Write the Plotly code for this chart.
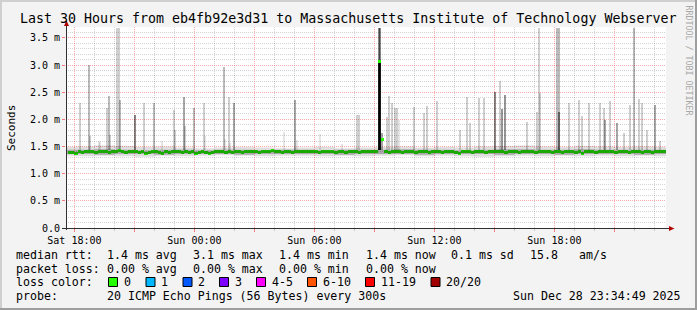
import numpy as np
import pandas as pd
import plotly.graph_objects as go

# ---------------- data ----------------
range_start = "2025-12-27 17:34:49"
range_end = "2025-12-28 23:34:49"

median_start = "2025-12-27 17:40"   # 10-minute steps
median_ms = [
    1.39, 1.39, 1.38, 1.40, 1.39, 1.40, 1.41, 1.40, 1.39, 1.40, 1.41, 1.40, 1.39, 1.41, 1.40, 1.42, 1.40, 1.39,
    1.40, 1.41, 1.40, 1.39, 1.40, 1.38, 1.39, 1.41, 1.40, 1.39, 1.38, 1.40, 1.39, 1.40, 1.41, 1.40, 1.39, 1.40,
    1.39, 1.40, 1.38, 1.39, 1.40, 1.39, 1.38, 1.39, 1.40, 1.41, 1.40, 1.39, 1.40, 1.39, 1.41, 1.40, 1.39, 1.40,
    1.40, 1.41, 1.40, 1.39, 1.40, 1.41, 1.40, 1.42, 1.41, 1.40, 1.39, 1.41, 1.40, 1.39, 1.40, 1.41, 1.40, 1.40,
    1.41, 1.40, 1.41, 1.39, 1.40, 1.41, 1.40, 1.40, 1.39, 1.41, 1.40, 1.39, 1.40, 1.41, 1.40, 1.39, 1.40, 1.41,
    1.40, 1.41, 1.40, 3.06, 1.63, 1.40, 1.39, 1.40, 1.41, 1.40, 1.39, 1.40, 1.40, 1.41, 1.39, 1.40, 1.41, 1.40,
    1.39, 1.40, 1.41, 1.40, 1.39, 1.40, 1.41, 1.40, 1.39, 1.38, 1.40, 1.41, 1.40, 1.39, 1.40, 1.41, 1.40, 1.39,
    1.40, 1.41, 1.40, 1.41, 1.40, 1.39, 1.40, 1.41, 1.40, 1.39, 1.40, 1.41, 1.40, 1.40, 1.39, 1.41, 1.40, 1.41,
    1.40, 1.39, 1.41, 1.40, 1.39, 1.40, 1.41, 1.40, 1.39, 1.40, 1.38, 1.40, 1.41, 1.40, 1.39, 1.40, 1.41, 1.40,
    1.41, 1.40, 1.39, 1.40, 1.41, 1.40, 1.39, 1.40, 1.41, 1.40, 1.39, 1.41, 1.40, 1.39, 1.40, 1.41, 1.40, 1.41,
]

smoke_start = "2025-12-27 17:00"    # hourly steps
smoke_lo_ms = [1.33, 1.32, 1.33, 1.32, 1.31, 1.33, 1.32, 1.33, 1.34, 1.33, 1.32, 1.33, 1.33, 1.32, 1.33, 1.32,
               1.33, 1.34, 1.32, 1.33, 1.32, 1.31, 1.32, 1.33, 1.32, 1.33, 1.32, 1.33, 1.32, 1.33, 1.32, 1.33]
smoke_hi_ms = [1.49, 1.50, 1.52, 1.51, 1.49, 1.50, 1.48, 1.47, 1.48, 1.49, 1.48, 1.47, 1.48, 1.49, 1.47, 1.48,
               1.49, 1.50, 1.48, 1.49, 1.48, 1.50, 1.51, 1.52, 1.50, 1.49, 1.51, 1.50, 1.49, 1.50, 1.49, 1.48]
core_lo_ms = [1.36, 1.36, 1.35, 1.36, 1.36, 1.35, 1.36, 1.36, 1.36, 1.35, 1.36, 1.36, 1.36, 1.36, 1.35, 1.36,
              1.36, 1.36, 1.35, 1.36, 1.36, 1.36, 1.35, 1.36, 1.36, 1.35, 1.36, 1.36, 1.36, 1.35, 1.36, 1.36]
core_hi_ms = [1.44, 1.44, 1.45, 1.44, 1.43, 1.44, 1.44, 1.43, 1.44, 1.44, 1.43, 1.44, 1.44, 1.43, 1.44, 1.44,
              1.44, 1.45, 1.44, 1.44, 1.43, 1.44, 1.45, 1.45, 1.44, 1.44, 1.45, 1.44, 1.44, 1.44, 1.44, 1.43]

spike_time = [
    "2025-12-27 18:15", "2025-12-27 18:40", "2025-12-27 18:45", "2025-12-27 19:10", "2025-12-27 19:15",
    "2025-12-27 19:35", "2025-12-27 19:40", "2025-12-27 19:45", "2025-12-27 20:05", "2025-12-27 20:10",
    "2025-12-27 20:15", "2025-12-27 21:00", "2025-12-27 21:25", "2025-12-27 21:55", "2025-12-27 22:20",
    "2025-12-27 22:55", "2025-12-27 23:00", "2025-12-27 23:25", "2025-12-27 23:30", "2025-12-27 23:55",
    "2025-12-28 00:25", "2025-12-28 00:30", "2025-12-28 01:25", "2025-12-28 01:30", "2025-12-28 01:40",
    "2025-12-28 01:45", "2025-12-28 01:55", "2025-12-28 04:25", "2025-12-28 05:00", "2025-12-28 05:05",
    "2025-12-28 06:15", "2025-12-28 07:20", "2025-12-28 08:05", "2025-12-28 08:10", "2025-12-28 09:10",
    "2025-12-28 09:15", "2025-12-28 09:10", "2025-12-28 09:15", "2025-12-28 09:20", "2025-12-28 09:35",
    "2025-12-28 09:40", "2025-12-28 09:50", "2025-12-28 10:00", "2025-12-28 10:05", "2025-12-28 10:10",
    "2025-12-28 10:55", "2025-12-28 11:25", "2025-12-28 11:35", "2025-12-28 12:05", "2025-12-28 13:15",
    "2025-12-28 13:35", "2025-12-28 13:45", "2025-12-28 14:10", "2025-12-28 14:25", "2025-12-28 15:00",
    "2025-12-28 15:15", "2025-12-28 15:20", "2025-12-28 15:30", "2025-12-28 16:35", "2025-12-28 17:05",
    "2025-12-28 17:10", "2025-12-28 17:15", "2025-12-28 18:05", "2025-12-28 18:10", "2025-12-28 18:10",
    "2025-12-28 18:40", "2025-12-28 19:10", "2025-12-28 19:20", "2025-12-28 19:40", "2025-12-28 20:15",
    "2025-12-28 20:25", "2025-12-28 20:30", "2025-12-28 20:45", "2025-12-28 21:05", "2025-12-28 21:25",
    "2025-12-28 21:45", "2025-12-28 21:55", "2025-12-28 22:10", "2025-12-28 22:20", "2025-12-28 22:35",
    "2025-12-28 23:00", "2025-12-28 23:15",
]
spike_top_ms = [
    2.30, 3.00, 1.69, 1.60, 1.58, 2.21, 2.43, 1.71, 3.68, 3.68,
    2.36, 2.08, 2.31, 2.31, 1.60, 2.17, 1.80, 2.41, 1.87, 2.20,
    2.30, 1.70, 2.97, 1.64, 2.42, 1.57, 2.31, 1.76, 2.36, 1.62,
    1.73, 1.55, 2.08, 2.08, 3.68, 3.68, 3.06, 3.06, 1.75, 2.05,
    2.43, 2.30, 2.21, 2.21, 1.99, 2.23, 2.11, 2.25, 2.33, 1.80,
    2.42, 1.93, 2.39, 2.39, 2.51, 2.71, 2.19, 2.45, 1.96, 2.14,
    3.68, 2.48, 3.68, 3.68, 2.14, 2.30, 2.36, 2.06, 2.30, 2.30,
    2.20, 1.99, 2.33, 1.94, 1.75, 2.26, 3.68, 2.37, 2.30, 1.80,
    2.26, 1.60,
]
spike_pings = [
    2, 3, 2, 1, 1, 2, 3, 2, 2, 2,
    3, 6, 2, 3, 1, 2, 2, 4, 2, 3,
    2, 1, 3, 1, 2, 1, 4, 1, 4, 1,
    1, 1, 2, 2, 6, 6, 16, 16, 4, 2,
    2, 2, 2, 2, 1, 2, 2, 2, 2, 2,
    2, 2, 2, 2, 6, 2, 5, 5, 2, 2,
    2, 2, 3, 3, 6, 2, 2, 2, 2, 2,
    2, 4, 2, 4, 2, 2, 3, 2, 2, 2,
    4, 2,
]

loss_labels = ["0", "1", "2", "3", "4-5", "6-10", "11-19", "20/20"]
loss_colors = ["#26ff00", "#00b8ff", "#0059ff", "#7e00ff", "#ff00ff", "#ff5500", "#ff0000", "#a10000"]

title_text = "Last 30 Hours from eb4fb92e3d31 to Massachusetts Institute of Technology Webserver"
rtt_stats = ["median rtt:", "1.4 ms avg", "3.1 ms max", "1.4 ms min", "1.4 ms now", "0.1 ms sd", "15.8", "am/s"]
loss_stats = ["packet loss:", "0.00 % avg", "0.00 % max", "0.00 % min", "0.00 % now"]
probe_text = ["probe:", "20 ICMP Echo Pings (56 Bytes) every 300s"]
stamp_text = "Sun Dec 28 23:34:49 2025"

# ---------------- figure ----------------
MONO = "DejaVu Sans Mono"
W, H = 697, 310
L, R, T, B = 66, 666, 27, 228   # plot area in pixels


def px(x):
    return (x - L) / (R - L)


def py(y):
    return (B - y) / (B - T)


fig = go.Figure()

smoke_t = pd.date_range(smoke_start, periods=len(smoke_lo_ms), freq="1h")
fig.add_trace(go.Scatter(x=smoke_t, y=smoke_lo_ms, mode="lines", line=dict(width=0, shape="hv"),
                         hoverinfo="skip"))
fig.add_trace(go.Scatter(x=smoke_t, y=smoke_hi_ms, mode="lines", line=dict(width=0, shape="hv"),
                         fill="tonexty", fillcolor="rgba(0,0,0,0.13)", hoverinfo="skip"))
fig.add_trace(go.Scatter(x=smoke_t, y=core_lo_ms, mode="lines", line=dict(width=0, shape="hv"),
                         hoverinfo="skip"))
fig.add_trace(go.Scatter(x=smoke_t, y=core_hi_ms, mode="lines", line=dict(width=0, shape="hv"),
                         fill="tonexty", fillcolor="rgba(0,0,0,0.24)", hoverinfo="skip"))

spike_base = 1.44
sp_t = pd.to_datetime(spike_time)
sp_top = np.array(spike_top_ms)
sp_alpha = 1 - 0.9 ** np.array(spike_pings)
fig.add_trace(go.Bar(x=sp_t, y=sp_top - spike_base, base=spike_base, width=360000, offset=0,
                     marker=dict(color=[f"rgba(0,0,0,{a:.3f})" for a in sp_alpha], line=dict(width=0))))

med_t = pd.date_range(median_start, periods=len(median_ms), freq="10min")
thick = 0.055
fig.add_trace(go.Bar(x=med_t, y=np.full(len(median_ms), thick), base=np.array(median_ms) - thick / 2,
                     width=600000, offset=0, marker=dict(color=loss_colors[0], line=dict(width=0))))

# axes ticks
major_x = pd.date_range("2025-12-27 18:00", range_end, freq="3h")
major_text = [t.strftime("%a %H:%M") if t.hour % 6 == 0 else "" for t in major_x]
minor_x = [t for t in pd.date_range("2025-12-27 18:00", range_end, freq="1h") if t.hour % 3 != 0]
yt = np.round(np.arange(0, 3.51, 0.5), 2)
yt_text = ["0.0" if v == 0 else f"{v:.1f} m" for v in yt]
ym = [v for v in np.round(np.arange(0.1, 3.71, 0.1), 2) if round(v * 10) % 5 != 0]

MGRID = "rgba(255,0,0,0.33)"
GRID = "rgba(0,0,0,0.17)"

fig.update_layout(
    width=W, height=H,
    margin=dict(l=L, r=W - R, t=T, b=H - B, pad=0),
    paper_bgcolor="#f3f3f3", plot_bgcolor="#ffffff",
    showlegend=False, barmode="overlay", bargap=0,
    font=dict(family=MONO, size=10, color="#000000"),
    xaxis=dict(type="date", range=[range_start, range_end], tickmode="array",
               tickvals=major_x, ticktext=major_text, showgrid=True, gridcolor=MGRID,
               griddash="1px,1px", gridwidth=1, ticks="outside", ticklen=3, tickcolor="rgba(255,0,0,0.5)",
               minor=dict(tickmode="array", tickvals=minor_x, showgrid=True, gridcolor=GRID,
                          griddash="1px,1px", ticks="outside", ticklen=2, tickcolor="#c8c8c8"),
               zeroline=False, showline=False, tickfont=dict(family=MONO, size=10)),
    yaxis=dict(range=[0, 3.7], tickmode="array", tickvals=yt, ticktext=yt_text, showgrid=True,
               gridcolor=MGRID, griddash="1px,1px", gridwidth=1, ticks="outside", ticklen=3,
               tickcolor="rgba(255,0,0,0.5)",
               minor=dict(tickmode="array", tickvals=ym, showgrid=True, gridcolor=GRID, griddash="1px,1px"),
               zeroline=False, showline=False, tickfont=dict(family=MONO, size=10)),
)

shapes = []
# axis lines and arrows
shapes.append(dict(type="line", xref="paper", yref="paper", x0=px(66.5), x1=px(66.5), y0=py(230), y1=py(24),
                   line=dict(color="#303030", width=1)))
shapes.append(dict(type="line", xref="paper", yref="paper", x0=px(62), x1=px(670), y0=py(228.5), y1=py(228.5),
                   line=dict(color="#303030", width=1)))


def path(points):
    s = "M " + " L ".join(f"{px(x)},{py(y)}" for x, y in points) + " Z"
    return s


shapes.append(dict(type="path", xref="paper", yref="paper", path=path([(64, 26), (69, 26), (66.5, 20.5)]),
                   fillcolor="#b00000", line=dict(width=0)))
shapes.append(dict(type="path", xref="paper", yref="paper", path=path([(669, 226), (669, 231), (674.5, 228.5)]),
                   fillcolor="#b00000", line=dict(width=0)))
# 3d frame
shapes.append(dict(type="rect", xref="paper", yref="paper", x0=px(0), x1=px(2), y0=py(310), y1=py(0),
                   fillcolor="#cfcfcf", line=dict(width=0), layer="below"))
shapes.append(dict(type="rect", xref="paper", yref="paper", x0=px(0), x1=px(697), y0=py(2), y1=py(0),
                   fillcolor="#cfcfcf", line=dict(width=0), layer="below"))
shapes.append(dict(type="rect", xref="paper", yref="paper", x0=px(695), x1=px(697), y0=py(310), y1=py(0),
                   fillcolor="#9e9e9e", line=dict(width=0), layer="below"))
shapes.append(dict(type="rect", xref="paper", yref="paper", x0=px(0), x1=px(697), y0=py(310), y1=py(308),
                   fillcolor="#9e9e9e", line=dict(width=0), layer="below"))

# loss colour boxes
box_x = [108.5, 146, 183, 219.5, 256.5, 307.5, 365.5, 431]
for bx, col in zip(box_x, loss_colors):
    shapes.append(dict(type="rect", xref="paper", yref="paper", x0=px(bx), x1=px(bx + 9), y0=py(286.5),
                       y1=py(277.5), fillcolor=col, line=dict(color="#000000", width=1)))

ann = []


def text(x, y, s, size=11.6, anchor="left", color="#000000", angle=0):
    ann.append(dict(x=px(x), y=py(y), xref="paper", yref="paper", text=s, showarrow=False,
                    xanchor=anchor, yanchor="middle", borderpad=0, borderwidth=0, textangle=angle,
                    font=dict(family=MONO, size=size, color=color)))


text(348, 18.5, title_text, size=13.3, anchor="center")
text(11, 128, "Seconds", size=11, anchor="center", angle=-90)
text(688.5, 60, "RRDTOOL / TOBI OETIKER", size=8.3, anchor="center", color="#a8a8a8", angle=90)

row_x = [16, 107, 193, 279, 365.5, 451, 530, 579]
for x, s in zip(row_x, rtt_stats):
    text(x, 254.5, s)
for x, s in zip(row_x, loss_stats):
    text(x, 268.5, s)
text(16, 282, "loss color:")
for bx, s in zip(box_x, loss_labels):
    text(bx + 15, 282, s)
text(16, 296, probe_text[0])
text(107, 296, probe_text[1])
text(680.5, 296, stamp_text, anchor="right")

fig.update_layout(shapes=shapes, annotations=ann)
fig.write_html("out.html")
